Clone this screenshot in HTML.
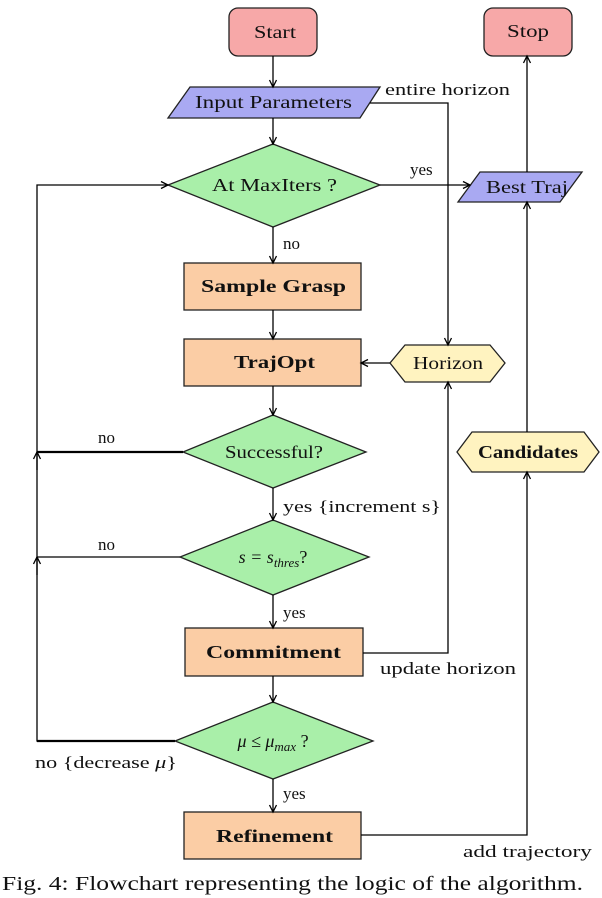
<!DOCTYPE html>
<html><head><meta charset="utf-8"><style>
body{margin:0;background:#fff;}
svg{display:block;font-family:"Liberation Serif",serif;}
</style></head><body>
<svg width="602" height="898" viewBox="0 0 602 898" xmlns="http://www.w3.org/2000/svg">
<defs><marker id="a" markerWidth="10" markerHeight="10" refX="8" refY="5" orient="auto" markerUnits="userSpaceOnUse"><path d="M1,1.5 L8,5 L1,8.5" fill="none" stroke="#000" stroke-width="1.3"/></marker></defs>
<g stroke="#222" stroke-width="1.3">
<rect x="229" y="8" width="88" height="48" rx="9" fill="#f7a8a8"/>
<rect x="484" y="8" width="88" height="48" rx="9" fill="#f7a8a8"/>
<polygon points="190,87 380,87 360,118 168,118" fill="#a9a9f2"/>
<polygon points="273,144 380,185 273,227 168,185" fill="#a9efa9"/>
<polygon points="480,172 582,172 560,202 458,202" fill="#a9a9f2"/>
<rect x="184" y="263" width="177" height="47" fill="#fbcda5"/>
<rect x="184" y="339" width="177" height="47" fill="#fbcda5"/>
<polygon points="405,345 490,345 505,363 490,382 405,382 390,363" fill="#fff3c0"/>
<polygon points="273,415 366,452 273,488 183,452" fill="#a9efa9"/>
<polygon points="472,432 584,432 599,452 584,472 472,472 457,452" fill="#fff3c0"/>
<polygon points="273,520 369,557 273,595 180,557" fill="#a9efa9"/>
<rect x="185" y="628" width="178" height="48" fill="#fbcda5"/>
<polygon points="273,702 373,741 273,779 175,741" fill="#a9efa9"/>
<rect x="184" y="812" width="177" height="47" fill="#fbcda5"/>
</g>
<g stroke="#000" stroke-width="1.3" fill="none">
<line x1="273" y1="56" x2="273" y2="87" marker-end="url(#a)"/>
<line x1="273" y1="118" x2="273" y2="144" marker-end="url(#a)"/>
<line x1="273" y1="227" x2="273" y2="263" marker-end="url(#a)"/>
<line x1="273" y1="310" x2="273" y2="339" marker-end="url(#a)"/>
<line x1="273" y1="386" x2="273" y2="415" marker-end="url(#a)"/>
<line x1="273" y1="488" x2="273" y2="520" marker-end="url(#a)"/>
<line x1="273" y1="595" x2="273" y2="628" marker-end="url(#a)"/>
<line x1="273" y1="676" x2="273" y2="702" marker-end="url(#a)"/>
<line x1="273" y1="779" x2="273" y2="812" marker-end="url(#a)"/>
<polyline points="370,103 448,103 448,345" marker-end="url(#a)"/>
<line x1="380" y1="185" x2="470" y2="185" marker-end="url(#a)"/>
<line x1="527" y1="172" x2="527" y2="56" marker-end="url(#a)"/>
<line x1="390" y1="363" x2="361" y2="363" marker-end="url(#a)"/>
<polyline points="363,653 448,653 448,382" marker-end="url(#a)"/>
<line x1="527" y1="432" x2="527" y2="202" marker-end="url(#a)"/>
<polyline points="361,835 527,835 527,472" marker-end="url(#a)"/>
<polyline points="175,741 37,741 37,185 168,185" marker-end="url(#a)"/>
<line x1="183" y1="452" x2="37" y2="452" stroke-width="2.2"/>
<line x1="180" y1="557" x2="37" y2="557"/>
<line x1="37" y1="575" x2="37" y2="557" marker-end="url(#a)"/>
<line x1="37" y1="470" x2="37" y2="452" marker-end="url(#a)"/>
<line x1="175" y1="741" x2="37" y2="741" stroke-width="2.2"/>
</g>
<g font-size="18" fill="#111" lengthAdjust="spacingAndGlyphs">
<text x="254" y="38" textLength="42" lengthAdjust="spacingAndGlyphs">Start</text>
<text x="507" y="37" textLength="42" lengthAdjust="spacingAndGlyphs">Stop</text>
<text x="195" y="108" textLength="157" lengthAdjust="spacingAndGlyphs">Input Parameters</text>
<text x="212" y="191" textLength="125" lengthAdjust="spacingAndGlyphs">At MaxIters ?</text>
<text x="486" y="193" textLength="82" lengthAdjust="spacingAndGlyphs">Best Traj</text>
<text x="201" y="292" font-weight="bold" textLength="145" lengthAdjust="spacingAndGlyphs">Sample Grasp</text>
<text x="234" y="368" font-weight="bold" textLength="81" lengthAdjust="spacingAndGlyphs">TrajOpt</text>
<text x="413" y="369" textLength="70" lengthAdjust="spacingAndGlyphs">Horizon</text>
<text x="225" y="458" textLength="98" lengthAdjust="spacingAndGlyphs">Successful?</text>
<text x="478" y="458" font-weight="bold" textLength="100" lengthAdjust="spacingAndGlyphs">Candidates</text>
<text x="273" y="563" font-style="italic" text-anchor="middle">s = s<tspan font-size="13" dy="4">thres</tspan><tspan dy="-4" font-style="normal">?</tspan></text>
<text x="206" y="658" font-weight="bold" textLength="135" lengthAdjust="spacingAndGlyphs">Commitment</text>
<text x="273" y="747" font-style="italic" text-anchor="middle">μ ≤ μ<tspan font-size="13" dy="4">max</tspan><tspan dy="-4" font-style="normal"> ?</tspan></text>
<text x="216" y="842" font-weight="bold" textLength="117" lengthAdjust="spacingAndGlyphs">Refinement</text>
</g>
<g font-size="17" fill="#111">
<text x="385" y="95" textLength="125" lengthAdjust="spacingAndGlyphs">entire horizon</text>
<text x="410" y="175">yes</text>
<text x="283" y="249">no</text>
<text x="98" y="443">no</text>
<text x="283" y="512" textLength="158" lengthAdjust="spacingAndGlyphs">yes {increment s}</text>
<text x="98" y="550">no</text>
<text x="283" y="618">yes</text>
<text x="380" y="674" textLength="136" lengthAdjust="spacingAndGlyphs">update horizon</text>
<text x="35" y="768" textLength="142" lengthAdjust="spacingAndGlyphs">no {decrease <tspan font-style="italic">μ</tspan>}</text>
<text x="283" y="799">yes</text>
<text x="463" y="857" textLength="129" lengthAdjust="spacingAndGlyphs">add trajectory</text>
<text x="2" y="890" font-size="20" textLength="581" lengthAdjust="spacingAndGlyphs">Fig. 4: Flowchart representing the logic of the algorithm.</text>
</g>
</svg>
</body></html>
